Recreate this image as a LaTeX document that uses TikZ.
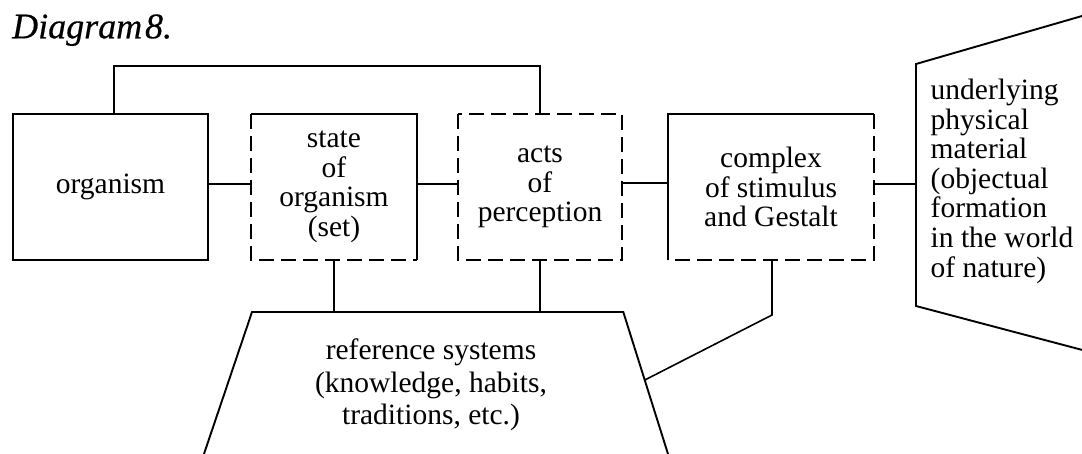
\documentclass[tikz,border=0pt]{standalone}
\usepackage{fontspec}
\setmainfont{Liberation Serif}[ItalicFeatures={FakeBold=0.4}]
\usetikzlibrary{calc}
\begin{document}
\begin{tikzpicture}[x=1pt,y=-1pt,
  box/.style={rectangle, inner sep=0pt, outer sep=0pt, align=center, font=\fontsize{29.5}{29.5}\selectfont},
  edge/.style={line width=1.9pt},
  dsh/.style={line width=1.9pt, dash pattern=on 15pt off 7pt},
  conn/.style={line width=1.6pt},
]
\useasboundingbox (0,0) rectangle (1082,454);
\clip (0,0) rectangle (1082,454);

\node[anchor=base west, inner sep=0pt, font=\fontsize{36}{36}\selectfont\itshape] (title) at (12,38.3) {Diagram\hspace{0.08em}8.};

\node[box, minimum width=195pt, minimum height=146pt] (org) at (110.5,187) {organism};
\node[box, minimum width=166pt, minimum height=146pt] (state) at (334,187) {state\\of\\organism\\(set)};
\node[box, minimum width=164pt, minimum height=146pt] (acts) at (540,187) {acts\\of\\perception};
\node[box, minimum width=206pt, minimum height=146pt] (complex) at (771,187) {complex\\of stimulus\\and Gestalt};

\draw[edge] (org.north west) rectangle (org.south east);
\draw[edge] (state.north west) -- (state.north east) -- (state.south east);
\draw[dsh] (state.north west) -- (state.south west) -- (state.south east);
\draw[dsh] (acts.north west) rectangle (acts.south east);
\draw[edge] (complex.south west) -- (complex.north west) -- (complex.north east);
\draw[dsh] (complex.north east) -- (complex.south east) -- (complex.south west);

% reference systems trapezium (runs off the bottom)
\coordinate (refTL) at (252,312);
\coordinate (refTR) at (623.3,312);
\coordinate (refBL) at (197.2,474);
\coordinate (refBR) at (674.3,474);
\draw[edge, line join=miter] (refBL) -- (refTL) -- (refTR) -- (refBR);
\node[box, font=\fontsize{29.5}{32.5}\selectfont] (reftext) at (431,385) {reference systems\\(knowledge, habits,\\traditions, etc.)};

% underlying physical material shape (runs off the right)
\draw[edge, line join=miter] (1090,13.7) -- (916,64) -- (916,306) -- (1090,352);
\node[anchor=west, align=left, inner sep=0pt, font=\fontsize{29.5}{29.6}\selectfont] (nat) at (930.5,181.3) {underlying\\physical\\material\\(objectual\\formation\\in the world\\of nature)};

\coordinate (topL) at (114,66);
\coordinate (natL) at (916,184);
\draw[conn] (org.north -| topL) -- (topL) -| (acts.north);
\draw[conn] ([yshift=3pt]org.east) -- ([yshift=3pt]state.west);
\draw[conn] ([yshift=3pt]state.east) -- ([yshift=3pt]acts.west);
\draw[conn] ([yshift=4pt]acts.east) -- ([yshift=4pt]complex.west);
\draw[conn] (complex.east |- natL) -- (natL);
\draw[conn] (state.south) -- (state.south |- refTL);
\draw[conn] (acts.south) -- (acts.south |- refTL);
\draw[conn] ([xshift=1pt]complex.south) -- ++(0,55) -- ($(refTR)!0.42!(refBR)$);
\end{tikzpicture}
\end{document}
